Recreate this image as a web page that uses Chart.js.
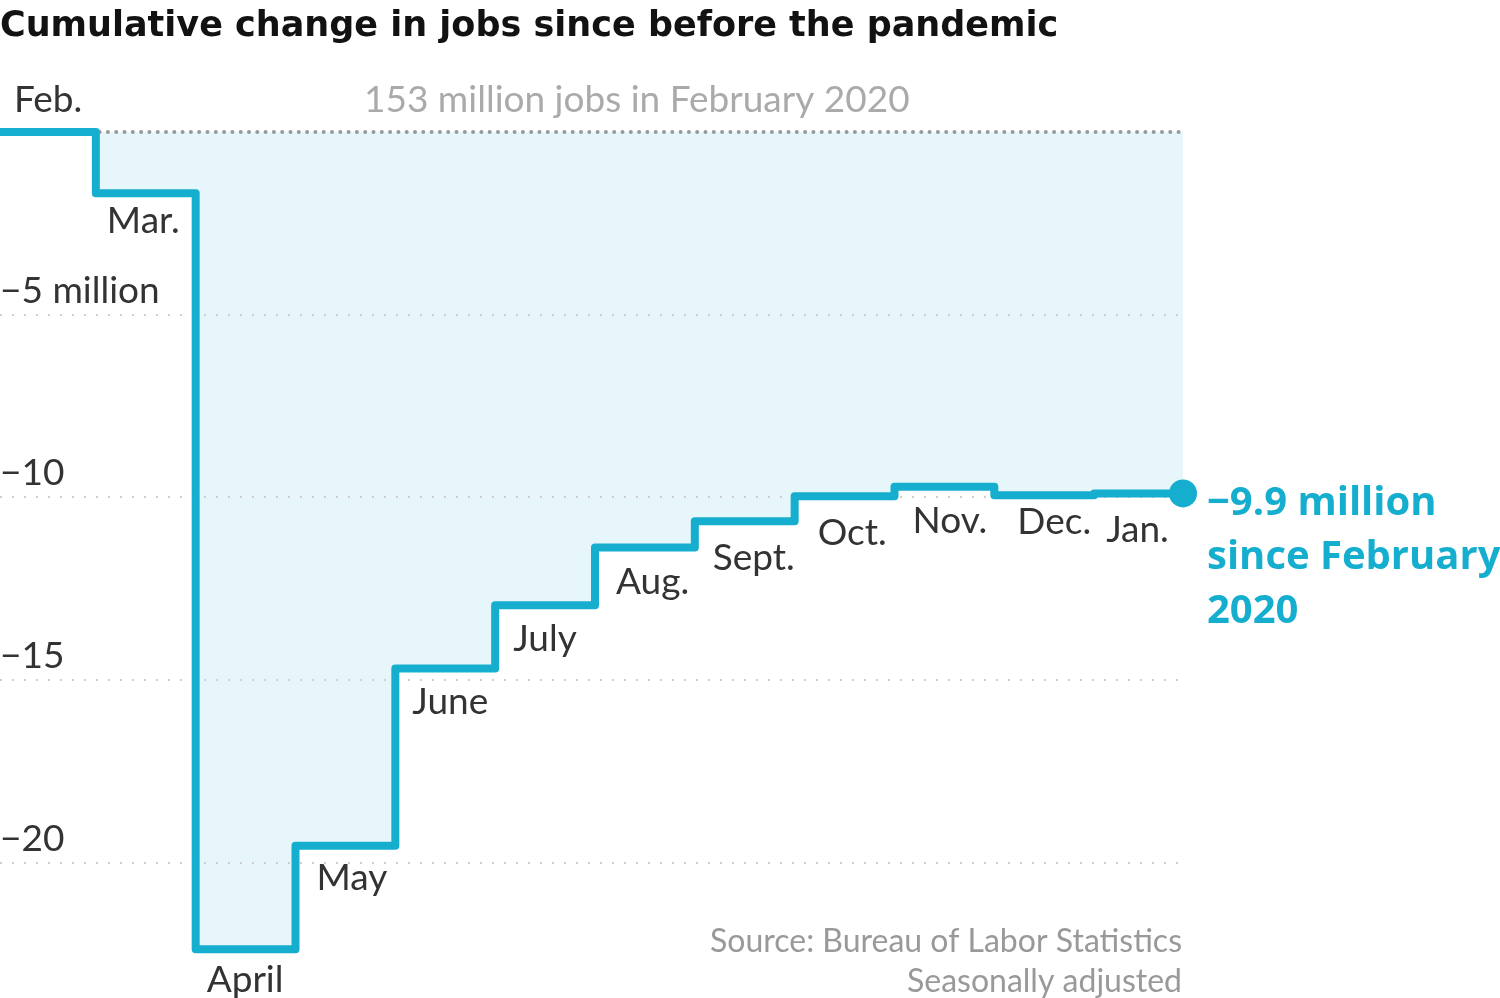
<!DOCTYPE html>
<html>
<head>
<meta charset="utf-8">
<script src="https://cdn.jsdelivr.net/npm/chart.js@4.4.1/dist/chart.umd.min.js"></script>
<style>
  html, body { margin: 0; padding: 0; background: #fff; }
  canvas { display: block; background: #fff; }
</style>
</head>
<body>
<canvas id="jobsChart" width="1500" height="998"></canvas>
<script>
// months of the step line, Feb. 2020 to Jan. 2021
const months = ['Feb.', 'Mar.', 'April', 'May', 'June', 'July', 'Aug.', 'Sept.', 'Oct.', 'Nov.', 'Dec.', 'Jan.'];
// cumulative change in jobs since Feb. 2020, millions
const jobsChange = [0, -1.68, -22.36, -19.53, -14.68, -12.95, -11.37, -10.65, -9.97, -9.71, -9.94, -9.89];
const yTicks = [-20, -15, -10, -5];
const yTickLabels = ['−20', '−15', '−10', '−5 million'];

const titleText = 'Cumulative change in jobs since before the pandemic';
const baseText = '153 million jobs in February 2020';
const endLabel = ['−9.9 million', 'since February', '2020'];
const sourceLines = ['Source: Bureau of Labor Statistics', 'Seasonally adjusted'];

const blue = '#15aecf';
const labelFont = '37px Lato';

const xMin = 0.04, xMax = 11.89;

// step points: each month holds its value until the next one
const stepData = months.map((m, i) => ({ x: i, y: jobsChange[i] }));
stepData.push({ x: xMax, y: jobsChange[jobsChange.length - 1] });

// small nudges for month labels, px [dx, dy]
const labelNudge = {
  'Mar.': [-6, -6], 'April': [-6, -3], 'May': [4, -2], 'July': [1, 0], 'Aug.': [4, 0],
  'Sept.': [1, 3], 'Oct.': [6, 3], 'Nov.': [1, 0], 'Dec.': [6, -7], 'Jan.': [-5, 3]
};

const textPlugin = {
  id: 'texts',
  afterDatasetsDraw(chart) {
    const { ctx } = chart;
    const xs = chart.scales.x, ys = chart.scales.y;
    const zeroY = ys.getPixelForValue(0);
    ctx.save();
    ctx.textBaseline = 'alphabetic';

    // title
    ctx.font = 'bold 35px "DejaVu Sans"';
    ctx.fillStyle = '#121212';
    ctx.textAlign = 'left';
    ctx.fillText(titleText, 0, 36);

    // month labels
    ctx.font = labelFont;
    ctx.fillStyle = '#333';
    months.forEach((m, i) => {
      if (i === 0) {
        ctx.fillText(m, xs.left + 14, zeroY - 20);
      } else {
        const [dx, dy] = labelNudge[m] || [0, 0];
        ctx.fillText(m, xs.getPixelForValue(i) + 17 + dx, ys.getPixelForValue(jobsChange[i]) + 46 + dy);
      }
    });

    // baseline caption
    ctx.fillStyle = '#aaa';
    ctx.fillText(baseText, 364, zeroY - 20);

    // end label
    const lastY = ys.getPixelForValue(jobsChange[jobsChange.length - 1]);
    ctx.font = 'bold 40px "Open Sans"';
    ctx.fillStyle = blue;
    endLabel.forEach((t, k) => ctx.fillText(t, 1207, lastY + 22 + k * 54));

    // source
    ctx.font = '32px Lato';
    ctx.fillStyle = '#999';
    ctx.textAlign = 'right';
    ctx.fillText(sourceLines[0], xs.right - 1, 952);
    ctx.fillText(sourceLines[1], xs.right - 1, 992);
    ctx.restore();
  }
};

const ctx = document.getElementById('jobsChart');

new Chart(ctx, {
  type: 'line',
  data: {
    datasets: [{
      label: 'Jobs',
      data: stepData,
      stepped: true,
      borderColor: blue,
      borderWidth: 8,
      borderJoinStyle: 'round',
      fill: { value: 0 },
      backgroundColor: '#e6f6fa',
      pointRadius: c => (c.dataIndex === stepData.length - 1 ? 14 : 0),
      pointBackgroundColor: blue,
      pointBorderWidth: 0,
      clip: false
    }, {
      label: 'February 2020',
      data: [{ x: xMin, y: 0 }, { x: xMax, y: 0 }],
      borderColor: '#999',
      borderWidth: 4,
      borderDash: [0, 8.3],
      borderCapStyle: 'round',
      pointRadius: 0,
      fill: false
    }]
  },
  options: {
    responsive: false,
    animation: false,
    events: [],
    layout: {
      autoPadding: false,
      padding: { left: 0, right: 317, top: 99, bottom: 40 }
    },
    plugins: {
      legend: { display: false },
      tooltip: { enabled: false },
      filler: { drawTime: 'beforeDraw' }
    },
    scales: {
      x: {
        type: 'linear',
        min: xMin,
        max: xMax,
        display: false
      },
      y: {
        type: 'linear',
        min: -22.6,
        max: 0.9,
        position: 'left',
        afterBuildTicks: axis => {
          axis.ticks = yTicks.map(v => ({ value: v }));
        },
        afterFit: axis => {
          axis.width = 0;
        },
        grid: {
          color: '#cfcfcf',
          lineWidth: 2,
          drawTicks: false
        },
        border: { display: false, dash: [2, 10] },
        ticks: {
          mirror: true,
          padding: 0,
          labelOffset: -24,
          color: '#333',
          font: { family: 'Lato', size: 37 },
          callback: v => yTickLabels[yTicks.indexOf(v)]
        }
      }
    }
  },
  plugins: [textPlugin]
});
</script>
</body>
</html>
